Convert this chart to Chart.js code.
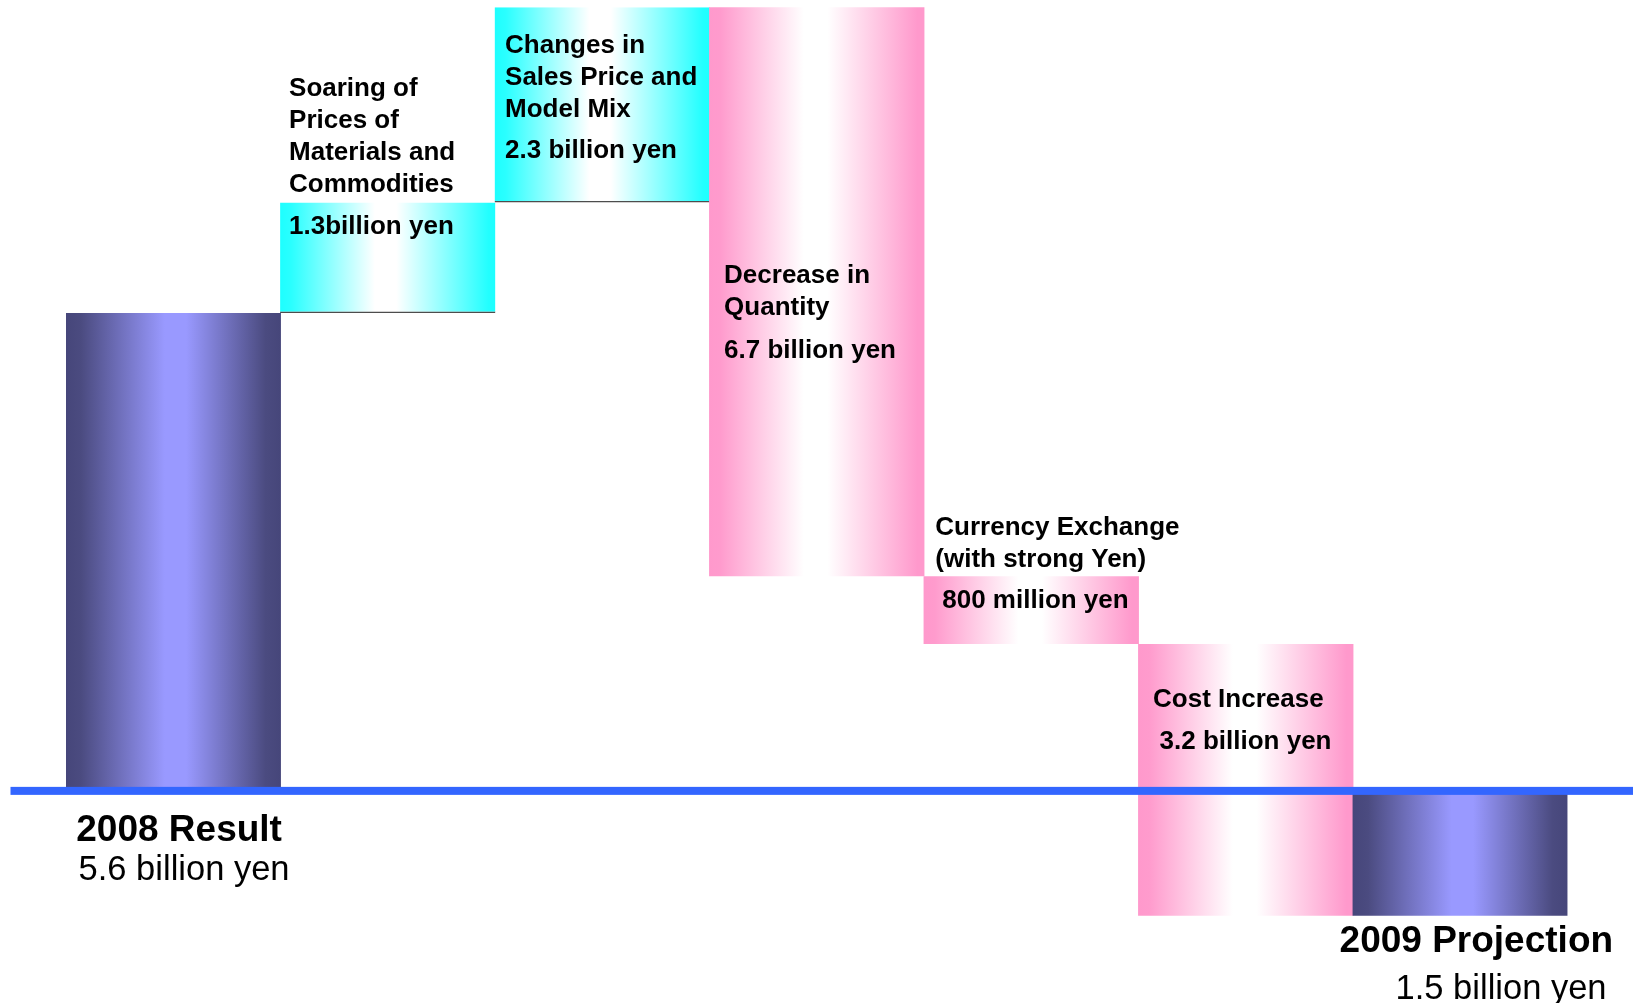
<!DOCTYPE html>
<html>
<head>
<meta charset="utf-8">
<title>Operating Income Change 2008 to 2009</title>
<script src="https://cdn.jsdelivr.net/npm/chart.js@4.4.1/dist/chart.umd.min.js"></script>
<style>
  html, body { margin: 0; padding: 0; background: #fff; }
  #wrap { width: 1633px; height: 1003px; position: relative; }
</style>
</head>
<body>
<div id="wrap"><canvas id="bridgeChart"></canvas></div>
<script>
// Bridge from the 2008 result to the 2009 projection (billion yen)
const categories = [
    '2008 Result',
    'Soaring of Prices of Materials and Commodities',
    'Changes in Sales Price and Model Mix',
    'Decrease in Quantity',
    'Currency Exchange (with strong Yen)',
    'Cost Increase',
    '2009 Projection'
];
const captionLines = [
    ['2008 Result'],
    ['Soaring of', 'Prices of', 'Materials and', 'Commodities'],
    ['Changes in', 'Sales Price and', 'Model Mix'],
    ['Decrease in', 'Quantity'],
    ['Currency Exchange', '(with strong Yen)'],
    ['Cost Increase'],
    ['2009 Projection']
];
const amountLabels = [
    '5.6 billion yen', '1.3billion yen', '2.3 billion yen', '6.7 billion yen',
    '800 million yen', '3.2 billion yen', '1.5 billion yen'
];
// 2008 result followed by each factor (billion yen)
const changes = [5.6, 1.3, 2.3, -6.7, -0.8, -3.2];
const barKinds = ['total', 'up', 'up', 'down', 'down', 'down', 'total'];

// Floating ranges: each factor starts where the previous one ended
const ranges = [];
let running = 0;
changes.forEach((d, i) => {
    const from = running;
    running += d;
    ranges.push(i === 0 ? [0, d] : [from, running]);
});
ranges.push([0, running]);

// Text placement relative to each bar's top or bottom edge
const labelLayout = [
    { anchor: 'bottom', dx: 10.7, dy: 52.6, amountDx: 13, amountDy: 91.6, big: true },
    { anchor: 'top', dx: 9, dy: -107, amountDx: 9, amountDy: 31.3 },
    { anchor: 'top', dx: 10.5, dy: 45.4, amountDx: 10.5, amountDy: 151 },
    { anchor: 'top', dx: 15, dy: 276, amountDx: 15, amountDy: 350.4 },
    { anchor: 'top', dx: 11.7, dy: -41, amountDx: 18.7, amountDy: 32.3 },
    { anchor: 'top', dx: 15, dy: 63, amountDx: 21.5, amountDy: 105 },
    { anchor: 'bottom', dx: -13, dy: 36.3, amountDx: 43, amountDy: 83, big: true }
];

const FONT = "'Liberation Sans', Arial, Helvetica, sans-serif";

const gradientStops = {
    total: [[0, '#46467a'], [0.07, '#4b4b80'], [0.46, '#9999ff'], [0.56, '#9999ff'], [0.93, '#4b4b80'], [1, '#46467a']],
    up: [[0, '#1effff'], [0.05, '#2affff'], [0.44, '#ffffff'], [0.54, '#ffffff'], [0.97, '#22ffff'], [1, '#1effff']],
    down: [[0, '#ff99cc'], [0.05, '#ff9bcd'], [0.44, '#ffffff'], [0.55, '#ffffff'], [0.97, '#ff99cc'], [1, '#ff99cc']]
};

// Horizontal gradient across the width of one bar
function barFill(context) {
    const chart = context.chart;
    const xScale = chart.scales.x;
    if (!chart.chartArea || !xScale) return '#9999ff';
    const i = context.dataIndex;
    const half = (xScale.getPixelForValue(1) - xScale.getPixelForValue(0)) / 2;
    const cx = xScale.getPixelForValue(i);
    const g = chart.ctx.createLinearGradient(cx - half, 0, cx + half, 0);
    gradientStops[barKinds[i]].forEach(([pos, col]) => g.addColorStop(pos, col));
    return g;
}

// Blue zero line drawn across the whole width, over the bars
const zeroLine = {
    id: 'zeroLine',
    afterDatasetsDraw(chart) {
        const { ctx, scales } = chart;
        const y0 = scales.y.getPixelForValue(0);
        ctx.save();
        ctx.fillStyle = '#3366ff';
        ctx.fillRect(10.5, y0 - 1.5, chart.width - 10.5, 8);
        ctx.restore();
    }
};

// Captions and amounts next to each bar
const barCaptions = {
    id: 'barCaptions',
    afterDraw(chart) {
        const { ctx } = chart;
        const bars = chart.getDatasetMeta(0).data;
        ctx.save();
        ctx.fillStyle = '#000';
        ctx.textAlign = 'left';
        ctx.textBaseline = 'alphabetic';
        bars.forEach((bar, i) => {
            const lay = labelLayout[i];
            const left = bar.x - bar.width / 2;
            const edge = lay.anchor === 'top' ? Math.min(bar.y, bar.base) : Math.max(bar.y, bar.base);
            ctx.font = lay.big ? 'bold 37px ' + FONT : 'bold 26px ' + FONT;
            captionLines[i].forEach((line, k) => {
                ctx.fillText(line, left + lay.dx, edge + lay.dy + k * 32);
            });
            ctx.font = lay.big ? '34.5px ' + FONT : 'bold 26px ' + FONT;
            ctx.fillText(amountLabels[i], left + lay.amountDx, edge + lay.amountDy);
        });
        ctx.restore();
    }
};

const ctx = document.getElementById('bridgeChart').getContext('2d');
new Chart(ctx, {
    type: 'bar',
    data: {
        labels: categories,
        datasets: [{
            data: ranges,
            backgroundColor: barFill,
            borderColor: '#4d4d4d',
            borderWidth: (c) => barKinds[c.dataIndex] === 'up'
                ? { top: 0, right: 0, bottom: 1.5, left: 0 }
                : 0,
            borderSkipped: false,
            categoryPercentage: 1.0,
            barPercentage: 1.004
        }]
    },
    options: {
        responsive: true,
        maintainAspectRatio: false,
        animation: false,
        layout: { padding: { left: 66, right: 65.5, top: 0, bottom: 0 } },
        scales: {
            x: { display: false, offset: true },
            y: { display: false, min: -2.528, max: 9.286 }
        },
        plugins: {
            legend: { display: false },
            tooltip: { enabled: false }
        }
    },
    plugins: [zeroLine, barCaptions]
});
</script>
</body>
</html>
